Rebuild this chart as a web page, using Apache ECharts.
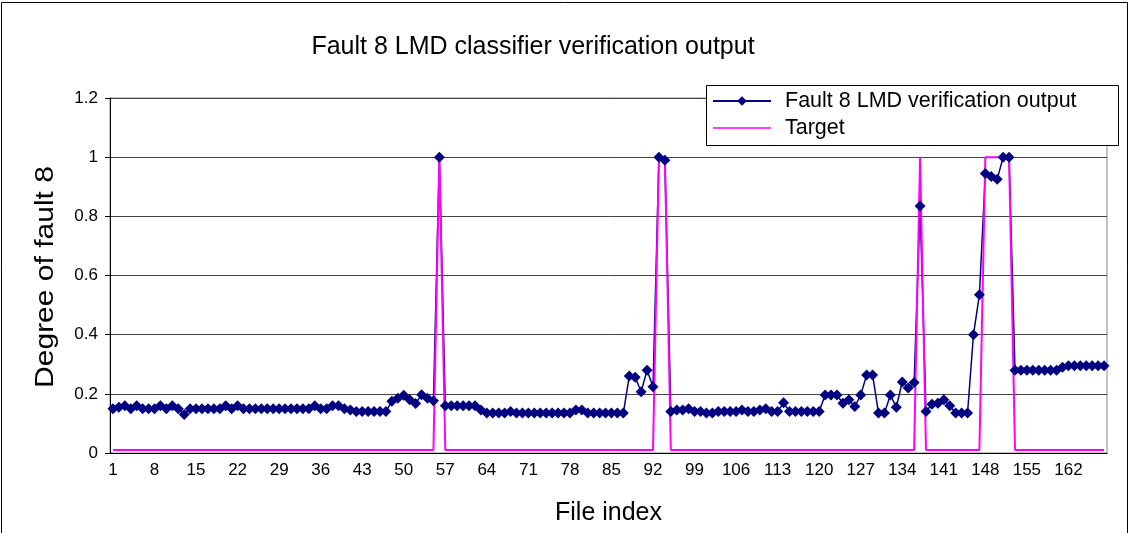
<!DOCTYPE html>
<html>
<head>
<meta charset="utf-8">
<script src="https://cdn.jsdelivr.net/npm/echarts@6/dist/echarts.min.js"></script>
<style>
  html, body { margin: 0; padding: 0; background: #fff; }
  #chart { width: 1130px; height: 533px; }
</style>
</head>
<body>
<div id="chart"></div>
<script>
// LMD classifier output for fault 8, one value per file
var faultOutput = [
  0.15, 0.155, 0.16, 0.15, 0.16, 0.15, 0.15, 0.15, 0.16, 0.15,
  0.16, 0.15, 0.13, 0.15, 0.15, 0.15, 0.15, 0.15, 0.15, 0.16,
  0.15, 0.16, 0.15, 0.15, 0.15, 0.15, 0.15, 0.15, 0.15, 0.15,
  0.15, 0.15, 0.15, 0.15, 0.16, 0.15, 0.15, 0.16, 0.16, 0.15,
  0.145, 0.14, 0.14, 0.14, 0.14, 0.14, 0.14, 0.175, 0.185, 0.195,
  0.18, 0.167, 0.197, 0.185, 0.177, 1.0, 0.16, 0.16, 0.16, 0.16,
  0.16, 0.16, 0.145, 0.135, 0.135, 0.135, 0.135, 0.14, 0.135, 0.135,
  0.135, 0.135, 0.135, 0.135, 0.135, 0.135, 0.135, 0.135, 0.145, 0.145,
  0.135, 0.135, 0.135, 0.135, 0.135, 0.135, 0.135, 0.26, 0.256, 0.207,
  0.28, 0.224, 1.0, 0.99, 0.14, 0.145, 0.145, 0.15, 0.14, 0.14,
  0.135, 0.135, 0.14, 0.14, 0.14, 0.14, 0.145, 0.14, 0.14, 0.145,
  0.15, 0.14, 0.14, 0.17, 0.14, 0.14, 0.14, 0.14, 0.14, 0.14,
  0.196, 0.196, 0.196, 0.168, 0.18, 0.157, 0.196, 0.264, 0.264, 0.135,
  0.135, 0.196, 0.155, 0.24, 0.22, 0.238, 0.835, 0.14, 0.165, 0.168,
  0.18, 0.16, 0.135, 0.135, 0.135, 0.40, 0.535, 0.945, 0.935, 0.925,
  1.0, 1.0, 0.28, 0.28, 0.28, 0.28, 0.28, 0.28, 0.28, 0.28,
  0.29, 0.295, 0.295, 0.295, 0.295, 0.295, 0.295, 0.295
];

// wanted output
var target = [
  0.01, 0.01, 0.01, 0.01, 0.01, 0.01, 0.01, 0.01, 0.01, 0.01,
  0.01, 0.01, 0.01, 0.01, 0.01, 0.01, 0.01, 0.01, 0.01, 0.01,
  0.01, 0.01, 0.01, 0.01, 0.01, 0.01, 0.01, 0.01, 0.01, 0.01,
  0.01, 0.01, 0.01, 0.01, 0.01, 0.01, 0.01, 0.01, 0.01, 0.01,
  0.01, 0.01, 0.01, 0.01, 0.01, 0.01, 0.01, 0.01, 0.01, 0.01,
  0.01, 0.01, 0.01, 0.01, 0.01, 1, 0.01, 0.01, 0.01, 0.01,
  0.01, 0.01, 0.01, 0.01, 0.01, 0.01, 0.01, 0.01, 0.01, 0.01,
  0.01, 0.01, 0.01, 0.01, 0.01, 0.01, 0.01, 0.01, 0.01, 0.01,
  0.01, 0.01, 0.01, 0.01, 0.01, 0.01, 0.01, 0.01, 0.01, 0.01,
  0.01, 0.01, 1, 1, 0.01, 0.01, 0.01, 0.01, 0.01, 0.01,
  0.01, 0.01, 0.01, 0.01, 0.01, 0.01, 0.01, 0.01, 0.01, 0.01,
  0.01, 0.01, 0.01, 0.01, 0.01, 0.01, 0.01, 0.01, 0.01, 0.01,
  0.01, 0.01, 0.01, 0.01, 0.01, 0.01, 0.01, 0.01, 0.01, 0.01,
  0.01, 0.01, 0.01, 0.01, 0.01, 0.01, 1, 0.01, 0.01, 0.01,
  0.01, 0.01, 0.01, 0.01, 0.01, 0.01, 0.01, 1, 1, 1,
  1, 1, 0.01, 0.01, 0.01, 0.01, 0.01, 0.01, 0.01, 0.01,
  0.01, 0.01, 0.01, 0.01, 0.01, 0.01, 0.01, 0.01
];

var fileIndex = faultOutput.map(function (v, i) { return String(i + 1); });

var font = 'Liberation Sans, Arial, sans-serif';

var myChart = echarts.init(document.getElementById('chart'));
var option = {
  animation: false,
  backgroundColor: '#fff',
  textStyle: { fontFamily: font },
  title: {
    text: 'Fault 8 LMD classifier verification output',
    left: 528,
    textAlign: 'center',
    top: 30,
    textStyle: { fontFamily: font, fontSize: 25, fontWeight: 'normal', color: '#000' }
  },
  graphic: [
    {
      type: 'rect', z: 0,
      shape: { x: 1.5, y: 2.5, width: 1126, height: 600 },
      style: { fill: 'none', stroke: '#000', lineWidth: 1 }
    },
    {
      type: 'rect', z: 50,
      shape: { x: 706.5, y: 85.5, width: 412, height: 60 },
      style: { fill: '#fff', stroke: '#000', lineWidth: 1 }
    },
    {
      // y axis title, stretched along its length like the reference
      type: 'text', z: 50,
      x: 46, y: 277,
      rotation: Math.PI / 2,
      scaleX: 1.2,
      style: {
        text: 'Degree of fault 8',
        font: '25px ' + font,
        fill: '#000',
        textAlign: 'center',
        textVerticalAlign: 'middle'
      }
    }
  ],
  legend: {
    orient: 'vertical',
    left: 712,
    top: 90,
    z: 60,
    padding: 0,
    itemWidth: 58,
    itemHeight: 12,
    itemGap: 5,
    textStyle: { fontFamily: font, fontSize: 21.5, color: '#000', padding: [0, 0, 0, 9] },
    data: [
      { name: 'Fault 8 LMD verification output' },
      { name: 'Target', icon: 'path://M0,5.2L58,5.2L58,6.8L0,6.8Z M0,0L0.01,0L0,0.01Z M58,12L57.99,12L58,11.99Z' }
    ]
  },
  grid: {
    left: 110,
    right: 23,
    top: 98,
    bottom: 80,
    show: true,
    borderColor: '#888',
    borderWidth: 1
  },
  xAxis: {
    type: 'category',
    data: fileIndex,
    boundaryGap: true,
    name: 'File index',
    nameLocation: 'middle',
    nameGap: 48,
    nameTextStyle: { fontFamily: font, fontSize: 25, color: '#000' },
    axisLine: { lineStyle: { color: '#000', width: 1 } },
    axisTick: { interval: 0, length: 5, lineStyle: { color: '#000' } },
    axisLabel: { interval: 6, fontSize: 17, color: '#000', margin: 9, fontFamily: font },
    splitLine: { show: false }
  },
  yAxis: {
    type: 'value',
    min: 0,
    max: 1.2,
    interval: 0.2,
    axisLine: { show: true, lineStyle: { color: '#000', width: 1 } },
    axisTick: { show: true, length: 5, lineStyle: { color: '#000' } },
    axisLabel: {
      fontSize: 17, color: '#000', margin: 12, fontFamily: font,
      formatter: function (v) { return String(Math.round(v * 10) / 10); }
    },
    splitLine: { lineStyle: { color: '#444', width: 1 } }
  },
  series: [
    {
      name: 'Fault 8 LMD verification output',
      type: 'line',
      data: faultOutput,
      color: '#000080',
      symbol: 'diamond',
      symbolSize: 11,
      showAllSymbol: true,
      lineStyle: { color: '#000080', width: 1.5 },
      itemStyle: { color: '#000080' }
    },
    {
      name: 'Target',
      type: 'line',
      data: target,
      color: '#FF00FF',
      symbol: 'none',
      lineStyle: { color: '#FF00FF', width: 2 }
    }
  ]
};

option && myChart.setOption(option);
</script>
</body>
</html>
